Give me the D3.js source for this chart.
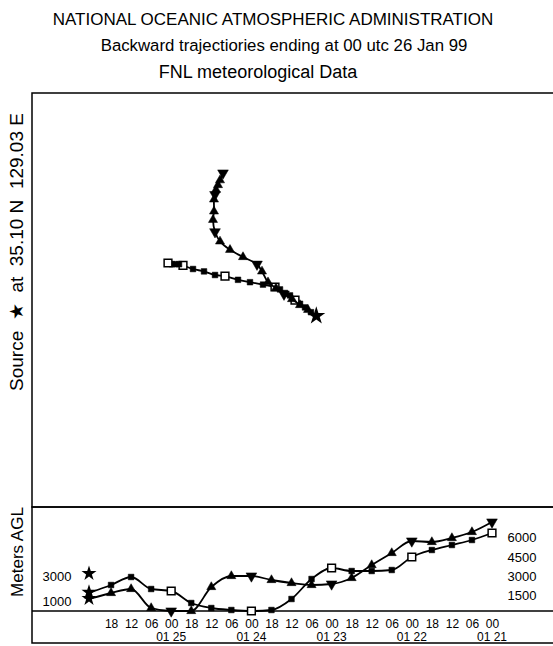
<!DOCTYPE html>
<html>
<head>
<meta charset="utf-8">
<script src="https://cdn.jsdelivr.net/npm/d3@7"></script>
<style>
	body { margin: 0; background: #fff; }
	svg { display: block; }
	text { font-family: "Liberation Sans", Arial, sans-serif; fill: #000; }
</style>
</head>
<body>
<svg width="553" height="646"></svg>
<script>
// hours back from 00 utc 26 Jan 99, every 6 h
var hours = [0, 6, 12, 18, 24, 30, 36, 42, 48, 54, 60, 66, 72, 78, 84, 90, 96, 102, 108, 114, 120];

// trajectory 1 (squares)
var sqLon = [129.03, 128.5, 127.9, 127.4, 126.9, 126.4, 125.9, 125.4, 124.9, 123.7, 122.4, 121.2, 119.9, 118.9, 117.8, 116.7, 115.7, 115.3, 114.9, 114.6, 114.2];
var sqLat = [35.10, 35.4, 35.8, 36.1, 36.4, 36.8, 37.0, 37.3, 37.5, 37.7, 37.9, 38.1, 38.4, 38.5, 38.8, 39.0, 39.3, 39.4, 39.4, 39.4, 39.5];
var sqHeight = [1500, 2080, 2720, 1760, 1600, 640, 240, 80, 0, 80, 960, 2560, 3440, 3200, 3200, 3280, 4320, 4880, 5280, 5680, 6240];

// trajectory 2 (triangles)
var triLon = [129.03, 128.2, 127.4, 126.6, 125.8, 125.0, 124.2, 123.6, 123.1, 121.7, 120.4, 119.4, 118.9, 118.7, 118.8, 118.8, 118.9, 119.0, 119.2, 119.4, 119.7];
var triLat = [35.10, 35.6, 36.0, 36.5, 36.9, 37.4, 37.9, 38.8, 39.4, 40.0, 40.6, 41.3, 42.1, 43.1, 43.8, 44.8, 45.2, 45.6, 46.0, 46.4, 47.0];
var triHeight = [1000, 1440, 1760, 240, 0, 0, 1920, 2800, 2800, 2480, 2240, 2080, 2160, 2640, 3680, 4640, 5600, 5520, 5840, 6320, 7120];

var sourceLon = 129.03, sourceLat = 35.10;
var sourceHeights = [3000, 1500, 1000];
var leftLabels = [3000, 1000];
var rightLabels = [1500, 3000, 4500, 6000];
var hourTicks = [6, 12, 18, 24, 30, 36, 42, 48, 54, 60, 66, 72, 78, 84, 90, 96, 102, 108, 114, 120];
var dateTicks = [24, 48, 72, 96, 120];
var dateLabels = ["01 25", "01 24", "01 23", "01 22", "01 21"];

var titles = ["NATIONAL OCEANIC ATMOSPHERIC ADMINISTRATION",
	"Backward trajectiories ending at 00 utc 26 Jan 99",
	"FNL meteorological Data"];

var svg = d3.select("svg");

var lonScale = d3.scaleLinear().domain([100, 150]).range([26, 526]);
var latScale = d3.scaleLinear().domain([30, 50]).range([377, 137]);
var hourScale = d3.scaleLinear().domain([0, 120]).range([91, 492]);
var hScale = d3.scaleLinear().domain([0, 6000]).range([611, 536]);

// titles
var titleX = [273, 284, 258], titleY = [25, 51, 78], titleSize = [17, 16.8, 18];
svg.selectAll(".title")
	.data(titles)
	.enter().append("text")
		.attr("class", "title")
		.attr("x", function(d, i) { return titleX[i]; })
		.attr("y", function(d, i) { return titleY[i]; })
		.attr("text-anchor", "middle")
		.style("font-size", function(d, i) { return titleSize[i] + "px"; })
		.text(function(d) { return d; });

// frames
var frame = svg.append("g")
	.attr("fill", "none")
	.attr("stroke", "#000")
	.attr("stroke-width", 1.5);
frame.append("rect").attr("x", 32).attr("y", 93).attr("width", 540).attr("height", 414);
frame.append("rect").attr("x", 32).attr("y", 507).attr("width", 540).attr("height", 136);
frame.append("line")
	.attr("x1", 32).attr("x2", 560)
	.attr("y1", hScale(0)).attr("y2", hScale(0));

// side labels
svg.append("text")
	.attr("transform", "translate(23,252) rotate(-90)")
	.attr("text-anchor", "middle")
	.attr("xml:space", "preserve")
	.style("white-space", "pre")
	.style("font-size", "19px")
	.text("Source  \u2605  at  35.10 N  129.03 E");

svg.append("text")
	.attr("transform", "translate(23,552) rotate(-90)")
	.attr("text-anchor", "middle")
	.style("font-size", "17px")
	.text("Meters AGL");

var star = d3.symbol().type(d3.symbolStar).size(70);
var filledSq = d3.symbol().type(d3.symbolSquare).size(32);
var openSq = d3.symbol().type(d3.symbolSquare).size(60);
var tri = d3.symbol().type(d3.symbolTriangle).size(36);
var bigTri = d3.symbol().type(d3.symbolTriangle).size(50);

function drawTrajectory(g, xs, ys, kind, curve) {
	var pts = hours.map(function(h, i) { return [xs[i], ys[i], h]; });
	g.append("path")
		.datum(pts)
		.attr("fill", "none")
		.attr("stroke", "#000")
		.attr("stroke-width", 1.8)
		.attr("d", d3.line().curve(curve)
			.x(function(d) { return d[0]; })
			.y(function(d) { return d[1]; }));

	g.selectAll(".mk")
		.data(pts.slice(1))
		.enter().append("path")
			.attr("class", "mk")
			.attr("transform", function(d) {
				var r = (kind == "tri" && d[2] % 24 == 0) ? " rotate(180)" : "";
				return "translate(" + d[0] + "," + d[1] + ")" + r;
			})
			.attr("d", function(d) {
				if (kind == "sq") return d[2] % 24 == 0 ? openSq() : filledSq();
				return d[2] % 24 == 0 ? bigTri() : tri();
			})
			.attr("fill", function(d) { return (kind == "sq" && d[2] % 24 == 0) ? "#fff" : "#000"; })
			.attr("stroke", "#000")
			.attr("stroke-width", function(d) { return (kind == "sq" && d[2] % 24 == 0) ? 1.5 : 0.5; });
}

// map panel
var map = svg.append("g");
drawTrajectory(map.append("g"), sqLon.map(lonScale), sqLat.map(latScale), "sq", d3.curveCatmullRom);
drawTrajectory(map.append("g"), triLon.map(lonScale), triLat.map(latScale), "tri", d3.curveCatmullRom);
map.append("path")
	.attr("transform", "translate(" + lonScale(sourceLon) + "," + latScale(sourceLat) + ")")
	.attr("d", star.size(100)());

// vertical panel
var vert = svg.append("g");
drawTrajectory(vert.append("g"), hours.map(hourScale), sqHeight.map(hScale), "sq", d3.curveMonotoneX);
drawTrajectory(vert.append("g"), hours.map(hourScale), triHeight.map(hScale), "tri", d3.curveMonotoneX);

vert.selectAll(".src")
	.data(sourceHeights)
	.enter().append("path")
		.attr("class", "src")
		.attr("transform", function(d) { return "translate(" + (hourScale(0) - 2) + "," + hScale(d) + ")"; })
		.attr("d", star.size(70)());

vert.selectAll(".ll")
	.data(leftLabels)
	.enter().append("text")
		.attr("class", "ll")
		.attr("x", 57)
		.attr("y", function(d) { return hScale(d) + 3; })
		.attr("dy", "0.35em")
		.attr("text-anchor", "middle")
		.style("font-size", "13px")
		.text(function(d) { return d; });

vert.selectAll(".rl")
	.data(rightLabels)
	.enter().append("text")
		.attr("class", "rl")
		.attr("x", 522)
		.attr("y", function(d) { return hScale(d) + (d == 6000 ? 1 : 3); })
		.attr("dy", "0.35em")
		.attr("text-anchor", "middle")
		.style("font-size", "13px")
		.text(function(d) { return d; });

// time axis
var axis = vert.append("g")
	.attr("transform", "translate(0," + 616 + ")")
	.call(d3.axisBottom(hourScale)
		.tickValues(hourTicks)
		.tickSize(0)
		.tickFormat(function(h) { return d3.format("02")((24 - h % 24) % 24); }));
axis.select(".domain").remove();
axis.selectAll("text")
	.style("font-family", "\"Liberation Sans\", Arial, sans-serif")
	.style("font-size", "12px");

vert.selectAll(".dl")
	.data(dateTicks)
	.enter().append("text")
		.attr("class", "dl")
		.attr("x", function(d) { return hourScale(d); })
		.attr("y", 641)
		.attr("text-anchor", "middle")
		.style("font-size", "12px")
		.text(function(d, i) { return dateLabels[i]; });
</script>
</body>
</html>
